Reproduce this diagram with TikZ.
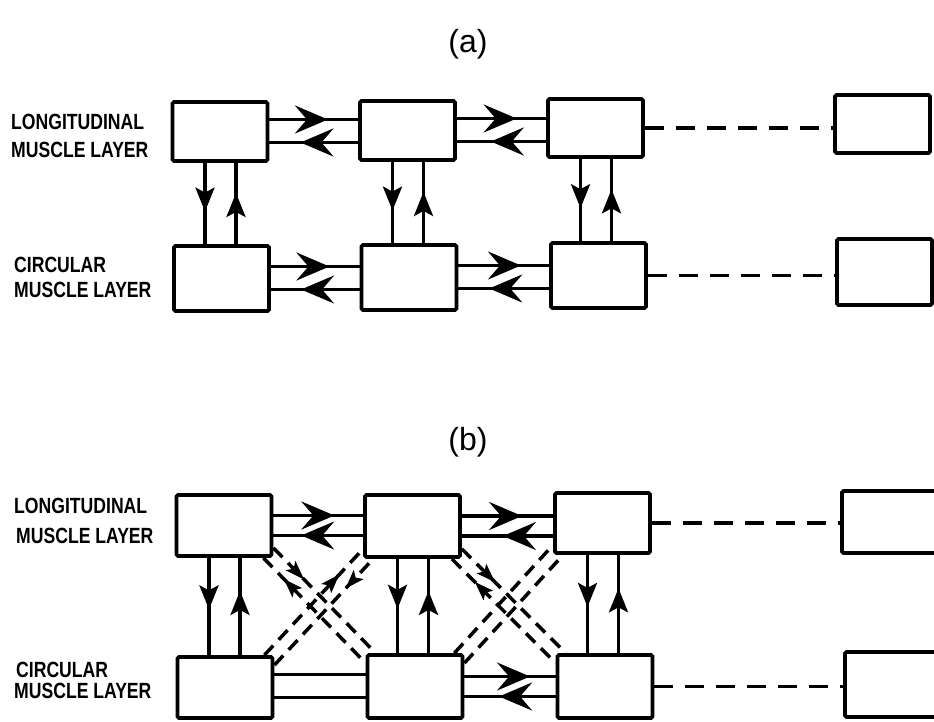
\documentclass[tikz,border=0pt]{standalone}
\usepackage{fontspec}
\newfontfamily\labfont[FakeStretch=0.8]{Liberation Sans}
\newfontfamily\ttlfont{Liberation Sans}
\usetikzlibrary{arrows.meta,decorations.markings,calc}
\begin{document}
\begin{tikzpicture}[x=1pt,y=-1pt,
  bigtip/.tip={Stealth[length=33pt,width=28pt,inset=12pt]},
  vtip/.tip={Stealth[length=24pt,width=19pt,inset=5pt]},
  stip/.tip={Stealth[length=19pt,width=13pt,inset=4pt]},
  box/.style={draw,line width=3.8pt,inner sep=0pt,minimum width=95pt,fill=white,rounded corners=1.5pt},
  link/.style={line width=3.5pt},
  dlink/.style={line width=3.8pt,dash pattern=on 19pt off 12pt},
  xlink/.style={line width=3.5pt,dash pattern=on 13pt off 8pt},
  fwd/.style={postaction={decorate,decoration={markings,mark=at position #1 with {\arrow{bigtip}}}}},
  bwd/.style={postaction={decorate,decoration={markings,mark=at position #1 with {\arrowreversed{bigtip}}}}},
  vfwd/.style={postaction={decorate,decoration={markings,mark=at position #1 with {\arrow{vtip}}}}},
  vbwd/.style={postaction={decorate,decoration={markings,mark=at position #1 with {\arrowreversed{vtip}}}}},
  sfwd/.style={postaction={decorate,decoration={markings,mark=at position #1 with {\arrow{stip}}}}},
  sbwd/.style={postaction={decorate,decoration={markings,mark=at position #1 with {\arrowreversed{stip}}}}},
  lab/.style={font=\labfont\bfseries\fontsize{22}{24}\selectfont,anchor=base west,inner sep=0pt},
  ttl/.style={font=\ttlfont\fontsize{32}{34}\selectfont,anchor=base,inner sep=0pt}
]
\useasboundingbox (0,0) rectangle (934,722);
\clip (0,0) rectangle (934,722);

% ---------------- (a) ----------------
\node[ttl] (ta) at (468,53) {(a)};
\node[lab] (la1) at (11,130) {LONGITUDINAL};
\node[lab] (la2) at (11,158) {MUSCLE LAYER};
\node[lab] (la3) at (14,272) {CIRCULAR};
\node[lab] (la4) at (14,297) {MUSCLE LAYER};

\node[box,minimum height=59pt] (aT1) at (220,131.5) {};
\node[box,minimum height=59pt] (aT2) at (407.5,130.5) {};
\node[box,minimum height=58pt] (aT3) at (595.5,128) {};
\node[box,minimum height=58pt] (aT4) at (882.5,124) {};
\node[box,minimum height=65pt] (aB1) at (221.5,278.5) {};
\node[box,minimum height=65pt] (aB2) at (409,277.5) {};
\node[box,minimum height=65pt] (aB3) at (598.5,275.5) {};
\node[box,minimum height=66pt] (aB4) at (884.5,272) {};

\foreach \l/\r/\f/\b in {aT1/aT2/0.66/0.35, aT2/aT3/0.67/0.38, aB1/aB2/0.66/0.34, aB2/aB3/0.69/0.34}{
  \coordinate (\l-u) at ($(\l.east)+(0,-12)$);
  \coordinate (\l-d) at ($(\l.east)+(0,11)$);
  \draw[link,fwd=\f] (\l-u) -- (\l-u -| \r.west);
  \draw[link,bwd=\b] (\l-d) -- (\l-d -| \r.west);
}
\foreach \t/\b in {aT1/aB1, aT2/aB2, aT3/aB3}{
  \coordinate (\t-l) at ($(\t.south)+(-15,0)$);
  \coordinate (\t-r) at ($(\t.south)+(16,0)$);
  \draw[link,vfwd=0.6] (\t-l) -- (\t-l |- \b.north);
  \draw[link,vbwd=0.37] (\t-r) -- (\t-r |- \b.north);
}
\draw[dlink] (aT3.east) -- (aT3.east -| aT4.west);
\draw[dlink] (aB3.east) -- (aB3.east -| aB4.west);

% ---------------- (b) ----------------
\node[ttl] (tb) at (468,450) {(b)};
\node[lab] (lb1) at (14,513) {LONGITUDINAL};
\node[lab] (lb2) at (16,543) {MUSCLE LAYER};
\node[lab] (lb3) at (16,677) {CIRCULAR};
\node[lab] (lb4) at (14,698) {MUSCLE LAYER};

\node[box,minimum height=61pt] (bT1) at (224,525.5) {};
\node[box,minimum height=62pt] (bT2) at (412.5,526) {};
\node[box,minimum height=60pt] (bT3) at (602.5,523) {};
\node[box,minimum height=62pt] (bT4) at (889.5,522) {};
\node[box,minimum height=61pt] (bB1) at (225,687.5) {};
\node[box,minimum height=63pt] (bB2) at (415,686.5) {};
\node[box,minimum height=63pt] (bB3) at (605,686.5) {};
\node[box,minimum height=65pt] (bB4) at (892.5,684.5) {};

\foreach \l/\r/\f/\b in {bT1/bT2/0.68/0.31, bT2/bT3/0.66/0.45, bB2/bB3/0.72/0.38}{
  \coordinate (\l-u) at ($(\l.east)+(0,-10)$);
  \coordinate (\l-d) at ($(\l.east)+(0,10)$);
  \draw[link,fwd=\f] (\l-u) -- (\l-u -| \r.west);
  \draw[link,bwd=\b] (\l-d) -- (\l-d -| \r.west);
}
\coordinate (bB1-u) at ($(bB1.east)+(0,-13)$);
\coordinate (bB1-d) at ($(bB1.east)+(0,10)$);
\draw[link] (bB1-u) -- (bB1-u -| bB2.west);
\draw[link] (bB1-d) -- (bB1-d -| bB2.west);

\foreach \t/\b in {bT1/bB1, bT2/bB2, bT3/bB3}{
  \coordinate (\t-l) at ($(\t.south)+(-15,0)$);
  \coordinate (\t-r) at ($(\t.south)+(16,0)$);
  \draw[link,vfwd=0.53] (\t-l) -- (\t-l |- \b.north);
  \draw[link,vbwd=0.34] (\t-r) -- (\t-r |- \b.north);
}
\draw[dlink] (bT3.east) -- (bT3.east -| bT4.west);
\draw[dlink] (bB3.east) -- (bB3.east -| bB4.west);

% cross connections (dashed)
\draw[xlink,sfwd=0.3] ($(bT1.south east)+(0,-10)$) -- ($(bB2.north west)+(10,0)$);
\draw[xlink,sbwd=0.2] ($(bT1.south east)+(-10,0)$) -- ($(bB2.north west)+(0,10)$);
\draw[xlink,sfwd=0.76] ($(bB1.north east)+(-10,0)$) -- ($(bT2.south west)+(0,-10)$);
\draw[xlink,sbwd=0.72] ($(bB1.north east)+(0,10)$) -- ($(bT2.south west)+(10,0)$);
\draw[xlink,sfwd=0.32] ($(bT2.south east)+(0,-10)$) -- ($(bB3.north west)+(10,0)$);
\draw[xlink,sbwd=0.22] ($(bT2.south east)+(-10,0)$) -- ($(bB3.north west)+(0,10)$);
\draw[xlink] ($(bB2.north east)+(-10,0)$) -- ($(bT3.south west)+(0,-10)$);
\draw[xlink] ($(bB2.north east)+(0,10)$) -- ($(bT3.south west)+(10,0)$);
\end{tikzpicture}
\end{document}
